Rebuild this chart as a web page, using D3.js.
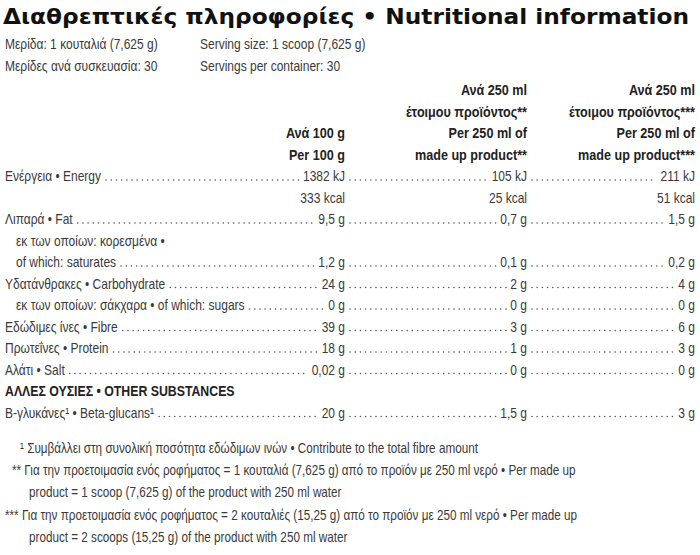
<!DOCTYPE html>
<html><head><meta charset="UTF-8">
<script src="https://d3js.org/d3.v7.min.js"></script>
<style>
body{margin:0;background:#fff}
text{font-family:"Liberation Sans","DejaVu Sans",sans-serif;font-size:15px;fill:#3a3a3a}
.title{font-family:"DejaVu Sans","Liberation Sans",sans-serif;font-weight:bold;font-size:21px;fill:#111}
.b{font-weight:bold;fill:#222}
</style></head><body>
<svg id="c" width="700" height="555"></svg>
<script>
// rows: label, indent flag, per 100 g, per 250 ml (1 scoop), per 250 ml (2 scoops)
var labels = ["Ενέργεια • Energy", "", "Λιπαρά • Fat", "εκ των οποίων: κορεσμένα •", "of which: saturates",
  "Υδατάνθρακες • Carbohydrate", "εκ των οποίων: σάκχαρα • of which: sugars", "Εδώδιμες ίνες • Fibre",
  "Πρωτεΐνες • Protein", "Αλάτι • Salt"];
var indent = [0, 0, 0, 1, 1, 0, 1, 0, 0, 0];
var per100 = ["1382 kJ", "333 kcal", "9,5 g", "", "1,2 g", "24 g", "0 g", "39 g", "18 g", "0,02 g"];
var per250a = ["105 kJ", "25 kcal", "0,7 g", "", "0,1 g", "2 g", "0 g", "3 g", "1 g", "0 g"];
var per250b = ["211 kJ", "51 kcal", "1,5 g", "", "0,2 g", "4 g", "0 g", "6 g", "3 g", "0 g"];
var other = {label: "Β-γλυκάνες¹ • Beta-glucans¹", values: ["20 g", "1,5 g", "3 g"]};
var colRight = [345, 527, 695];

var svg = d3.select("#c");
var y = d3.scaleLinear().domain([0, 1]).range([181, 202.5]); // row index -> baseline

// condensed text: squeeze natural width
function T(x, yy, str, cls, anchor, k) {
  var t = svg.append("text").attr("x", x).attr("y", yy).text(str);
  if (cls) t.attr("class", cls);
  if (anchor) t.attr("text-anchor", anchor);
  var w = t.node().getComputedTextLength() * (k || 0.8);
  t.attr("textLength", w).attr("lengthAdjust", "spacingAndGlyphs");
  return w;
}

var tt = svg.append("text").attr("class", "title").attr("x", 3).attr("y", 24)
  .text("Διαθρεπτικές πληροφορίες • Nutritional information")
  .attr("textLength", 686).attr("lengthAdjust", "spacingAndGlyphs").style("font-size", "22px");
T(5, 49, "Μερίδα: 1 κουταλιά (7,625 g)");
T(200, 49, "Serving size: 1 scoop (7,625 g)");
T(5, 71, "Μερίδες ανά συσκευασία: 30");
T(200, 71, "Servings per container: 30");

var heads = [["", "", "Ανά 100 g", "Per 100 g"],
  ["Ανά 250 ml", "έτοιμου προϊόντος**", "Per 250 ml of", "made up product**"],
  ["Ανά 250 ml", "έτοιμου προϊόντος***", "Per 250 ml of", "made up product***"]];
heads.forEach(function (h, i) {
  h.forEach(function (t, j) {
    if (t) T(colRight[i], y(j - 4), t, "b", "end", 0.84);
  });
});

function leader(x1, x2, yy) {
  if (x2 - x1 < 8) return;
  svg.append("line").attr("x1", x1 + 5).attr("x2", x2 - 4).attr("y1", yy - 1).attr("y2", yy - 1)
    .attr("stroke", "#555").attr("stroke-width", 1.6).attr("stroke-linecap", "round")
    .attr("stroke-dasharray", "0,5.2");
}

function row(label, ind, vals, yy, dots) {
  var lx = ind ? 16 : 5, end = lx;
  if (label) end = lx + T(lx, yy, label);
  vals.forEach(function (v, i) {
    if (!v) return;
    var w = T(colRight[i], yy, v, null, "end");
    if (dots) leader(end, colRight[i] - w, yy);
    end = colRight[i];
  });
}

labels.forEach(function (l, i) {
  row(l, indent[i], [per100[i], per250a[i], per250b[i]], y(i), i !== 1);
});
T(5, y(10), "ΑΛΛΕΣ ΟΥΣΙΕΣ • OTHER SUBSTANCES", "b", null, 0.82);
row(other.label, 0, other.values, y(11), true);

var notes = [[20, "¹ Συμβάλλει στη συνολική ποσότητα εδώδιμων ινών • Contribute to the total fibre amount"],
  [12, "** Για την προετοιμασία ενός ροφήματος = 1 κουταλιά (7,625 g) από το προϊόν με 250 ml νερό • Per made up"],
  [29, "product = 1 scoop (7,625 g) of the product with 250 ml water"],
  [5, "*** Για την προετοιμασία ενός ροφήματος = 2 κουταλιές (15,25 g) από το προϊόν με 250 ml νερό • Per made up"],
  [29, "product = 2 scoops (15,25 g) of the product with 250 ml water"]];
var ny = [453, 475, 497, 520, 542];
notes.forEach(function (n, i) {
  T(n[0], ny[i], n[1], null, null, 0.78);
});
</script></body></html>
